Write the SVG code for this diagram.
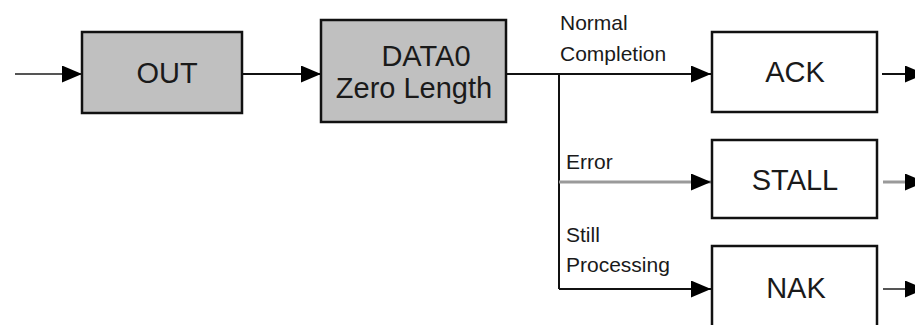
<svg xmlns="http://www.w3.org/2000/svg" width="915" height="325" viewBox="0 0 915 325">
  <style>
    .box { stroke: #111; stroke-width: 2.5; }
    .pid { fill: #c0c0c0; }
    .hs { fill: #ffffff; }
    .big { font-family: "Liberation Sans", Arial, sans-serif; font-size: 29px; fill: #1a1a1a; text-anchor: middle; }
    .lbl { font-family: "Liberation Sans", Arial, sans-serif; font-size: 21px; fill: #1a1a1a; }
    .wire { fill: none; stroke: #111; stroke-width: 2; }
    .soft { fill: none; stroke: #9a9a9a; stroke-width: 3; }
    .mid { fill: none; stroke: #555; stroke-width: 2; }
  </style>
  <defs>
    <marker id="arrow" markerUnits="userSpaceOnUse" markerWidth="20" markerHeight="17" refX="20" refY="8.5" orient="auto">
      <path d="M0,0 L20,8.5 L0,17 Z" fill="#000"/>
    </marker>
  </defs>

  <rect width="915" height="325" fill="#ffffff"/>

  <g id="connectors">
    <line class="mid" x1="15" y1="74" x2="82" y2="74" marker-end="url(#arrow)"/>
    <line class="wire" x1="242" y1="74" x2="321" y2="74" marker-end="url(#arrow)"/>
    <line class="wire" x1="506" y1="74" x2="711" y2="74" marker-end="url(#arrow)"/>
    <line class="wire" x1="559" y1="74" x2="559" y2="289"/>
    <line class="soft" x1="559" y1="182" x2="711" y2="182" marker-end="url(#arrow)"/>
    <line class="wire" x1="559" y1="289" x2="711" y2="289" marker-end="url(#arrow)"/>
    <line class="wire" x1="882" y1="74" x2="925" y2="74" marker-end="url(#arrow)"/>
    <line class="soft" x1="883" y1="182" x2="925" y2="182" marker-end="url(#arrow)"/>
    <line class="mid" x1="883" y1="289" x2="925" y2="289" marker-end="url(#arrow)"/>
    <text class="lbl" x="560" y="30">Normal</text>
    <text class="lbl" x="560" y="61">Completion</text>
    <text class="lbl" x="566" y="169">Error</text>
    <text class="lbl" x="566" y="242">Still</text>
    <text class="lbl" x="566" y="272">Processing</text>
  </g>

  <g id="out">
    <rect class="box pid" x="82" y="32" width="160" height="81"/>
    <text class="big" x="167" y="83">OUT</text>
  </g>

  <g id="data0">
    <rect class="box pid" x="321" y="20" width="185" height="102"/>
    <text class="big" x="426" y="66">DATA0</text>
    <text class="big" x="414" y="98">Zero Length</text>
  </g>

  <g id="ack">
    <rect class="box hs" x="712" y="32" width="165" height="80"/>
    <text class="big" x="795" y="82">ACK</text>
  </g>

  <g id="stall">
    <rect class="box hs" x="712" y="140" width="165" height="78"/>
    <text class="big" x="795" y="190">STALL</text>
  </g>

  <g id="nak">
    <rect class="box hs" x="712" y="246" width="165" height="82"/>
    <text class="big" x="796" y="298">NAK</text>
  </g>
</svg>
